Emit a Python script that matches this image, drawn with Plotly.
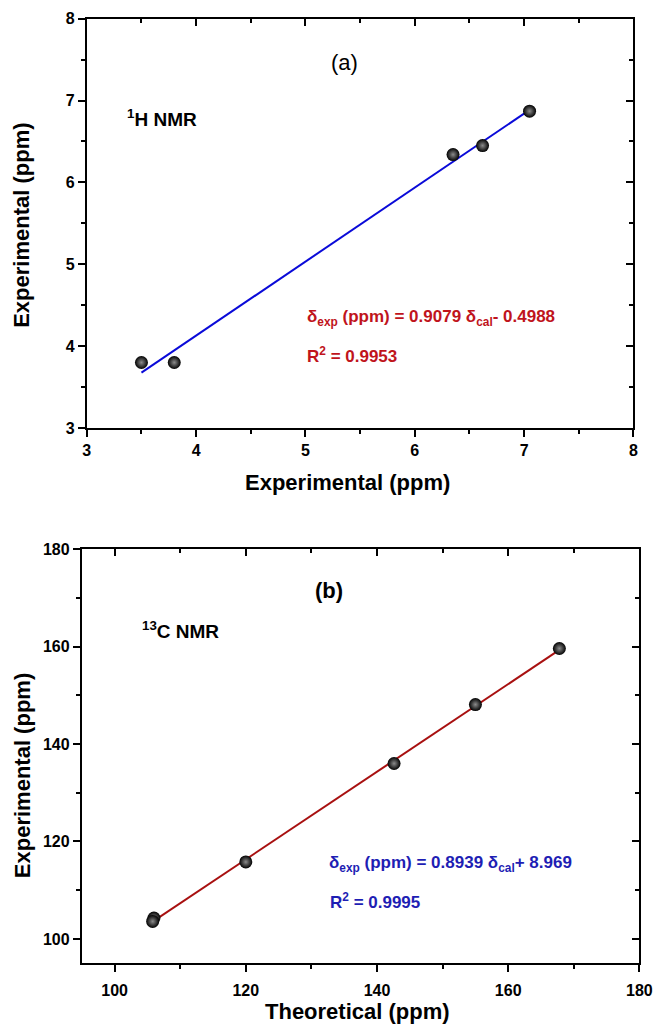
import numpy as np
import plotly.graph_objects as go

# ---- data ----
h_theo = [3.50, 3.80, 6.35, 6.62, 7.05]
h_exp = [3.80, 3.80, 6.34, 6.45, 6.87]

c_theo = [106.0, 105.8, 120.0, 142.6, 155.0, 167.8]
c_exp = [104.3, 103.6, 115.8, 136.0, 148.1, 159.6]

h_ticks = [3, 4, 5, 6, 7, 8]
c_ticks = [100, 120, 140, 160, 180]

FONT = "Liberation Sans, Arial, sans-serif"
W, H = 668, 1040

def fit_line(x, y):
    k, b = np.polyfit(x, y, 1)
    xs = np.array([min(x), max(x)])
    return xs, k * xs + b

fig = go.Figure()

marker = dict(size=13, color="black", gradient=dict(type="radial", color="#8c8c8c"),
              line=dict(width=0))

# top panel
lx, ly = fit_line(h_theo, h_exp)
fig.add_trace(go.Scatter(x=lx, y=ly, mode="lines", line=dict(color="#0a0ad8", width=2),
                         xaxis="x", yaxis="y", showlegend=False))
fig.add_trace(go.Scatter(x=h_theo, y=h_exp, mode="markers", marker=marker,
                         xaxis="x", yaxis="y", showlegend=False))
# bottom panel
lx2, ly2 = fit_line(c_theo, c_exp)
fig.add_trace(go.Scatter(x=lx2, y=ly2, mode="lines", line=dict(color="#a81010", width=2),
                         xaxis="x2", yaxis="y2", showlegend=False))
fig.add_trace(go.Scatter(x=c_theo, y=c_exp, mode="markers", marker=marker,
                         xaxis="x2", yaxis="y2", showlegend=False))
# dummy traces for mirrored inside-tick axes
fig.add_trace(go.Scatter(x=[None], y=[None], xaxis="x3", yaxis="y3", showlegend=False))
fig.add_trace(go.Scatter(x=[None], y=[None], xaxis="x4", yaxis="y4", showlegend=False))

# screen -> figure pixel calibration (body margin removed below)
def fx(s):
    return (s - 4) / 0.977
def fy(s):
    return (s - 8.3) / 0.983
def dx(a, b):
    return [fx(a) / W, fx(b) / W]
def dy(top, bottom):
    return [1 - fy(bottom) / H, 1 - fy(top) / H]
def px(s):
    return fx(s) / W
def py(s):
    return 1 - fy(s) / H

dom_x1 = dx(87, 635)
dom_y1 = dy(19, 428)
dom_x2 = dx(82, 641)
dom_y2 = dy(549, 963)

tickfont = dict(family=FONT, size=16, color="black", weight="bold")
titlefont = dict(family=FONT, size=22, color="black")

def main_axis(rng, dom, anchor, ticks, minor_dtick, standoff=0):
    return dict(range=rng, domain=dom, anchor=anchor, tickvals=ticks,
                ticks="outside", ticklen=7, tickwidth=2, tickcolor="black",
                minor=dict(ticks="outside", ticklen=4, tickwidth=2, tickcolor="black",
                           dtick=minor_dtick, tick0=ticks[0]),
                showline=True, linecolor="black", linewidth=2, mirror=True,
                showgrid=False, zeroline=False, tickfont=tickfont,
                ticklabelstandoff=standoff)

def inside_axis(rng, dom, anchor, overlay, side, ticks, minor_dtick):
    return dict(range=rng, domain=dom, anchor=anchor, overlaying=overlay, side=side,
                tickvals=ticks, ticks="inside", ticklen=7, tickwidth=2, tickcolor="black",
                minor=dict(ticks="inside", ticklen=4, tickwidth=2, tickcolor="black",
                           dtick=minor_dtick, tick0=ticks[0]),
                showticklabels=False, showline=False, showgrid=False, zeroline=False)

fig.update_layout(
    width=W, height=H,
    margin=dict(l=0, r=0, t=0, b=0),
    paper_bgcolor="white", plot_bgcolor="white",
    xaxis=main_axis([3, 8], dom_x1, "y", h_ticks, 0.5),
    yaxis=main_axis([3, 8], dom_y1, "x", h_ticks, 0.5),
    xaxis2=main_axis([95, 180], dom_x2, "y2", c_ticks, 10, standoff=4),
    yaxis2=main_axis([95, 180], dom_y2, "x2", c_ticks, 10),
    xaxis3=inside_axis([3, 8], dom_x1, "y3", "x", "top", h_ticks, 0.5),
    yaxis3=inside_axis([3, 8], dom_y1, "x3", "y", "right", h_ticks, 0.5),
    xaxis4=inside_axis([95, 180], dom_x2, "y4", "x2", "top", c_ticks, 10),
    yaxis4=inside_axis([95, 180], dom_y2, "x4", "y2", "right", c_ticks, 10),
)

red = "#c0141c"
blue = "#1e1eb4"
C = dict(xanchor="center", yanchor="middle", xref="paper", yref="paper", showarrow=False, font=titlefont)
anns = [
    # axis titles
    dict(text="<b>Experimental (ppm)</b>", x=px(348), y=py(482), **C),
    dict(text="<b>Experimental (ppm)</b>", x=px(22), y=py(225), textangle=-90, **C),
    dict(text="<b>Theoretical (ppm)</b>", x=px(358), y=py(1011), **C),
    dict(text="<b>Experimental (ppm)</b>", x=px(22), y=py(775), textangle=-90, **C),
    # panel texts
    dict(text="(a)", x=5.36, y=7.46, xref="x", yref="y", font=dict(family=FONT, size=22, color="black"),
         showarrow=False),
    dict(text="<b><sup>1</sup>H NMR</b>", x=3.35, y=6.79, xref="x", yref="y", xanchor="left",
         font=dict(family=FONT, size=19, color="black"), showarrow=False),
    dict(text="<b>δ<sub>exp</sub> (ppm) = 0.9079 δ<sub>cal</sub>- 0.4988</b>", x=5.0, y=4.34, xref="x", yref="y",
         xanchor="left", font=dict(family=FONT, size=17, color=red), showarrow=False),
    dict(text="<b>R<sup>2</sup> = 0.9953</b>", x=5.0, y=3.89, xref="x", yref="y",
         xanchor="left", font=dict(family=FONT, size=17, color=red), showarrow=False),
    dict(text="<b>(b)</b>", x=132.7, y=171.5, xref="x2", yref="y2", font=dict(family=FONT, size=22, color="black"),
         showarrow=False),
    dict(text="<b><sup>13</sup>C NMR</b>", x=103.8, y=163.3, xref="x2", yref="y2", xanchor="left",
         font=dict(family=FONT, size=19, color="black"), showarrow=False),
    dict(text="<b>δ<sub>exp</sub> (ppm) = 0.8939 δ<sub>cal</sub>+ 8.969</b>", x=132.4, y=115.4, xref="x2", yref="y2",
         xanchor="left", font=dict(family=FONT, size=17, color=blue), showarrow=False),
    dict(text="<b>R<sup>2</sup> = 0.9995</b>", x=132.6, y=107.8, xref="x2", yref="y2",
         xanchor="left", font=dict(family=FONT, size=17, color=blue), showarrow=False),
]
fig.update_layout(annotations=anns)

fig.write_html("out.html", config={"displayModeBar": False},
               post_script="document.body.style.margin='0';document.body.style.overflow='hidden';")
